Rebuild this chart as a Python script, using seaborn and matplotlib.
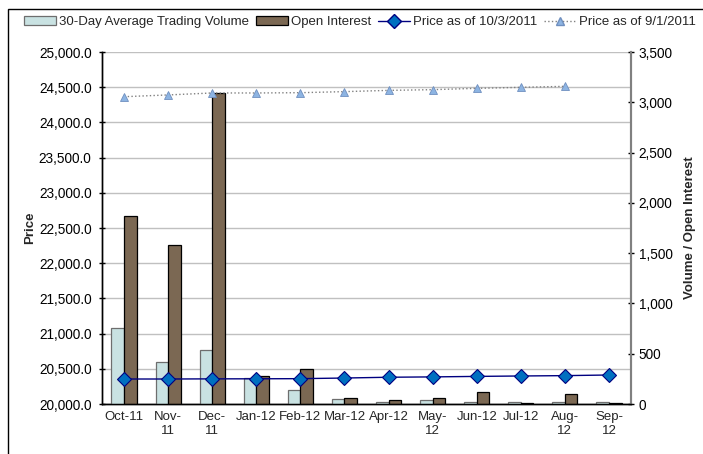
import matplotlib
matplotlib.use("Agg")
import matplotlib.pyplot as plt
import seaborn as sns
import numpy as np
import pandas as pd
from matplotlib.patches import Patch, Rectangle
from matplotlib.lines import Line2D
from matplotlib.ticker import StrMethodFormatter, FixedLocator, MultipleLocator

# Contract months and their tick labels (wrapped the way the source chart wraps them)
months = ["Oct-11", "Nov-11", "Dec-11", "Jan-12", "Feb-12", "Mar-12",
          "Apr-12", "May-12", "Jun-12", "Jul-12", "Aug-12", "Sep-12"]
tick_labels = ["Oct-11", "Nov-\n11", "Dec-\n11", "Jan-12", "Feb-12", "Mar-12",
               "Apr-12", "May-\n12", "Jun-12", "Jul-12", "Aug-\n12", "Sep-\n12"]

# Right axis: volume and open interest (contracts)
avg_volume = [755, 414, 534, 258, 139, 46, 23, 40, 23, 23, 23, 23]
open_interest = [1869, 1577, 3088, 278, 348, 60, 36, 60, 116, 13, 103, 8]

# Left axis: futures prices
price_oct3 = [20355, 20355, 20357, 20358, 20360, 20369,
              20380, 20385, 20392, 20398, 20403, 20412]
price_sep1 = [24365, 24390, 24418, 24418, 24422, 24437,
              24455, 24465, 24484, 24498, 24512, np.nan]

vol_label = "30-Day Average Trading Volume"
oi_label = "Open Interest"
oct_label = "Price as of 10/3/2011"
sep_label = "Price as of 9/1/2011"

VOL_FACE, VOL_EDGE = "#C9E2E2", "#6E6E6E"
OI_FACE, OI_EDGE = "#7B6853", "#000000"
OCT_FACE, OCT_LINE = "#0070C0", "#000080"
SEP_FACE, SEP_EDGE, SEP_LINE = "#8DB4E2", "#6F8FBF", "#808080"

sns.set_style("white")
plt.rcParams["font.family"] = ["Liberation Sans", "DejaVu Sans"]
plt.rcParams["font.size"] = 9.5

fig = plt.figure(figsize=(7.03, 4.54), dpi=100)
ax = fig.add_axes([102 / 703, 50 / 454, 529 / 703, 352 / 454])
ax_bar = ax.twinx()
ax_line = ax.twinx()

# bars on the secondary (right) axis
bars = pd.DataFrame({
    "month": months * 2,
    "series": [vol_label] * len(months) + [oi_label] * len(months),
    "value": avg_volume + open_interest,
})
sns.barplot(data=bars, x="month", y="value", hue="series", order=months,
            hue_order=[vol_label, oi_label],
            palette={vol_label: VOL_FACE, oi_label: OI_FACE},
            width=0.57, gap=0, saturation=1, legend=False, ax=ax_bar)
for cont, ec in zip(ax_bar.containers, [VOL_EDGE, OI_EDGE]):
    for p in cont:
        p.set_edgecolor(ec)
        p.set_linewidth(0.9)

# price lines drawn above the bars, on the primary scale
sns.pointplot(x=months, y=price_oct3, order=months, color=OCT_LINE, markers="D",
              linestyles="-", errorbar=None, ax=ax_line)
ln_oct = ax_line.lines[-1]
ln_oct.set_linewidth(1.0)
ln_oct.set_markersize(7)
ln_oct.set_markerfacecolor(OCT_FACE)
ln_oct.set_markeredgecolor(OCT_LINE)
ln_oct.set_markeredgewidth(0.8)

sns.pointplot(x=months, y=price_sep1, order=months, color=SEP_LINE, markers="^",
              linestyles=":", errorbar=None, ax=ax_line)
ln_sep = ax_line.lines[-1]
ln_sep.set_linewidth(1.0)
ln_sep.set_markersize(6)
ln_sep.set_markerfacecolor(SEP_FACE)
ln_sep.set_markeredgecolor(SEP_EDGE)
ln_sep.set_markeredgewidth(0.6)

# scales
ax.set_ylim(20000, 25000)
ax_line.set_ylim(20000, 25000)
ax_bar.set_ylim(0, 3500)
ax.set_xlim(-0.5, len(months) - 0.5)

ax_line.axis("off")

# left axis: price
ax.yaxis.set_major_locator(MultipleLocator(500))
ax.yaxis.set_major_formatter(StrMethodFormatter("{x:,.1f}"))
ax.yaxis.grid(True, color="#C0C0C0", linewidth=1)
ax.xaxis.grid(False)
ax.set_ylabel("Price", fontweight="bold", labelpad=2)
ax.tick_params(axis="y", direction="inout", length=5, width=1, pad=5,
               colors="black", labelsize=9.8)

# right axis: volume
ax_bar.yaxis.set_major_locator(MultipleLocator(500))
ax_bar.yaxis.set_major_formatter(StrMethodFormatter("{x:,.0f}"))
ax_bar.set_ylabel("Volume / Open Interest", fontweight="bold", labelpad=8)
ax_bar.tick_params(axis="y", direction="inout", length=5, width=1, pad=3,
                   colors="black", labelsize=9.8)

# x axis: labels centred, tick marks between categories
ax.xaxis.set_major_locator(FixedLocator(np.arange(len(months))))
ax.set_xticklabels(tick_labels)
ax.xaxis.set_minor_locator(FixedLocator(np.arange(len(months) + 1) - 0.5))
ax.tick_params(axis="x", which="major", length=0, pad=5)
ax.tick_params(axis="x", which="minor", direction="out", length=5, width=1, color="black")
ax.set_xlabel("")
ax_bar.set_xlabel("")

for a in (ax, ax_bar):
    a.spines["top"].set_visible(False)
    a.spines["left"].set_color("black")
    a.spines["bottom"].set_color("black")
    a.spines["right"].set_color("#808080")
    a.spines["left"].set_linewidth(1)
    a.spines["right"].set_linewidth(1.5)
    a.spines["bottom"].set_linewidth(1)

# legend across the top
handles = [
    Patch(facecolor=VOL_FACE, edgecolor=VOL_EDGE, linewidth=0.9),
    Patch(facecolor=OI_FACE, edgecolor=OI_EDGE, linewidth=0.9),
    Line2D([], [], color=OCT_LINE, lw=1, marker="D", markersize=7,
           markerfacecolor=OCT_FACE, markeredgecolor=OCT_LINE),
    Line2D([], [], color=SEP_LINE, lw=1, ls=":", marker="^", markersize=6,
           markerfacecolor=SEP_FACE, markeredgecolor=SEP_EDGE),
]
fig.legend(handles, [vol_label, oi_label, oct_label, sep_label],
           loc="center", bbox_to_anchor=(360 / 703, 1 - 22 / 454), ncol=4,
           frameon=False, handlelength=2.4, handleheight=0.6,
           handletextpad=0.25, columnspacing=0.5, borderaxespad=0)

# chart-area border (only its top and left edges fall inside the image)
fig.patches.append(Rectangle((8 / 703, -0.1), 1.2, 1.1 - 9 / 454,
                             transform=fig.transFigure, fill=False,
                             edgecolor="black", linewidth=1))

fig.savefig("out.png", dpi=100)
